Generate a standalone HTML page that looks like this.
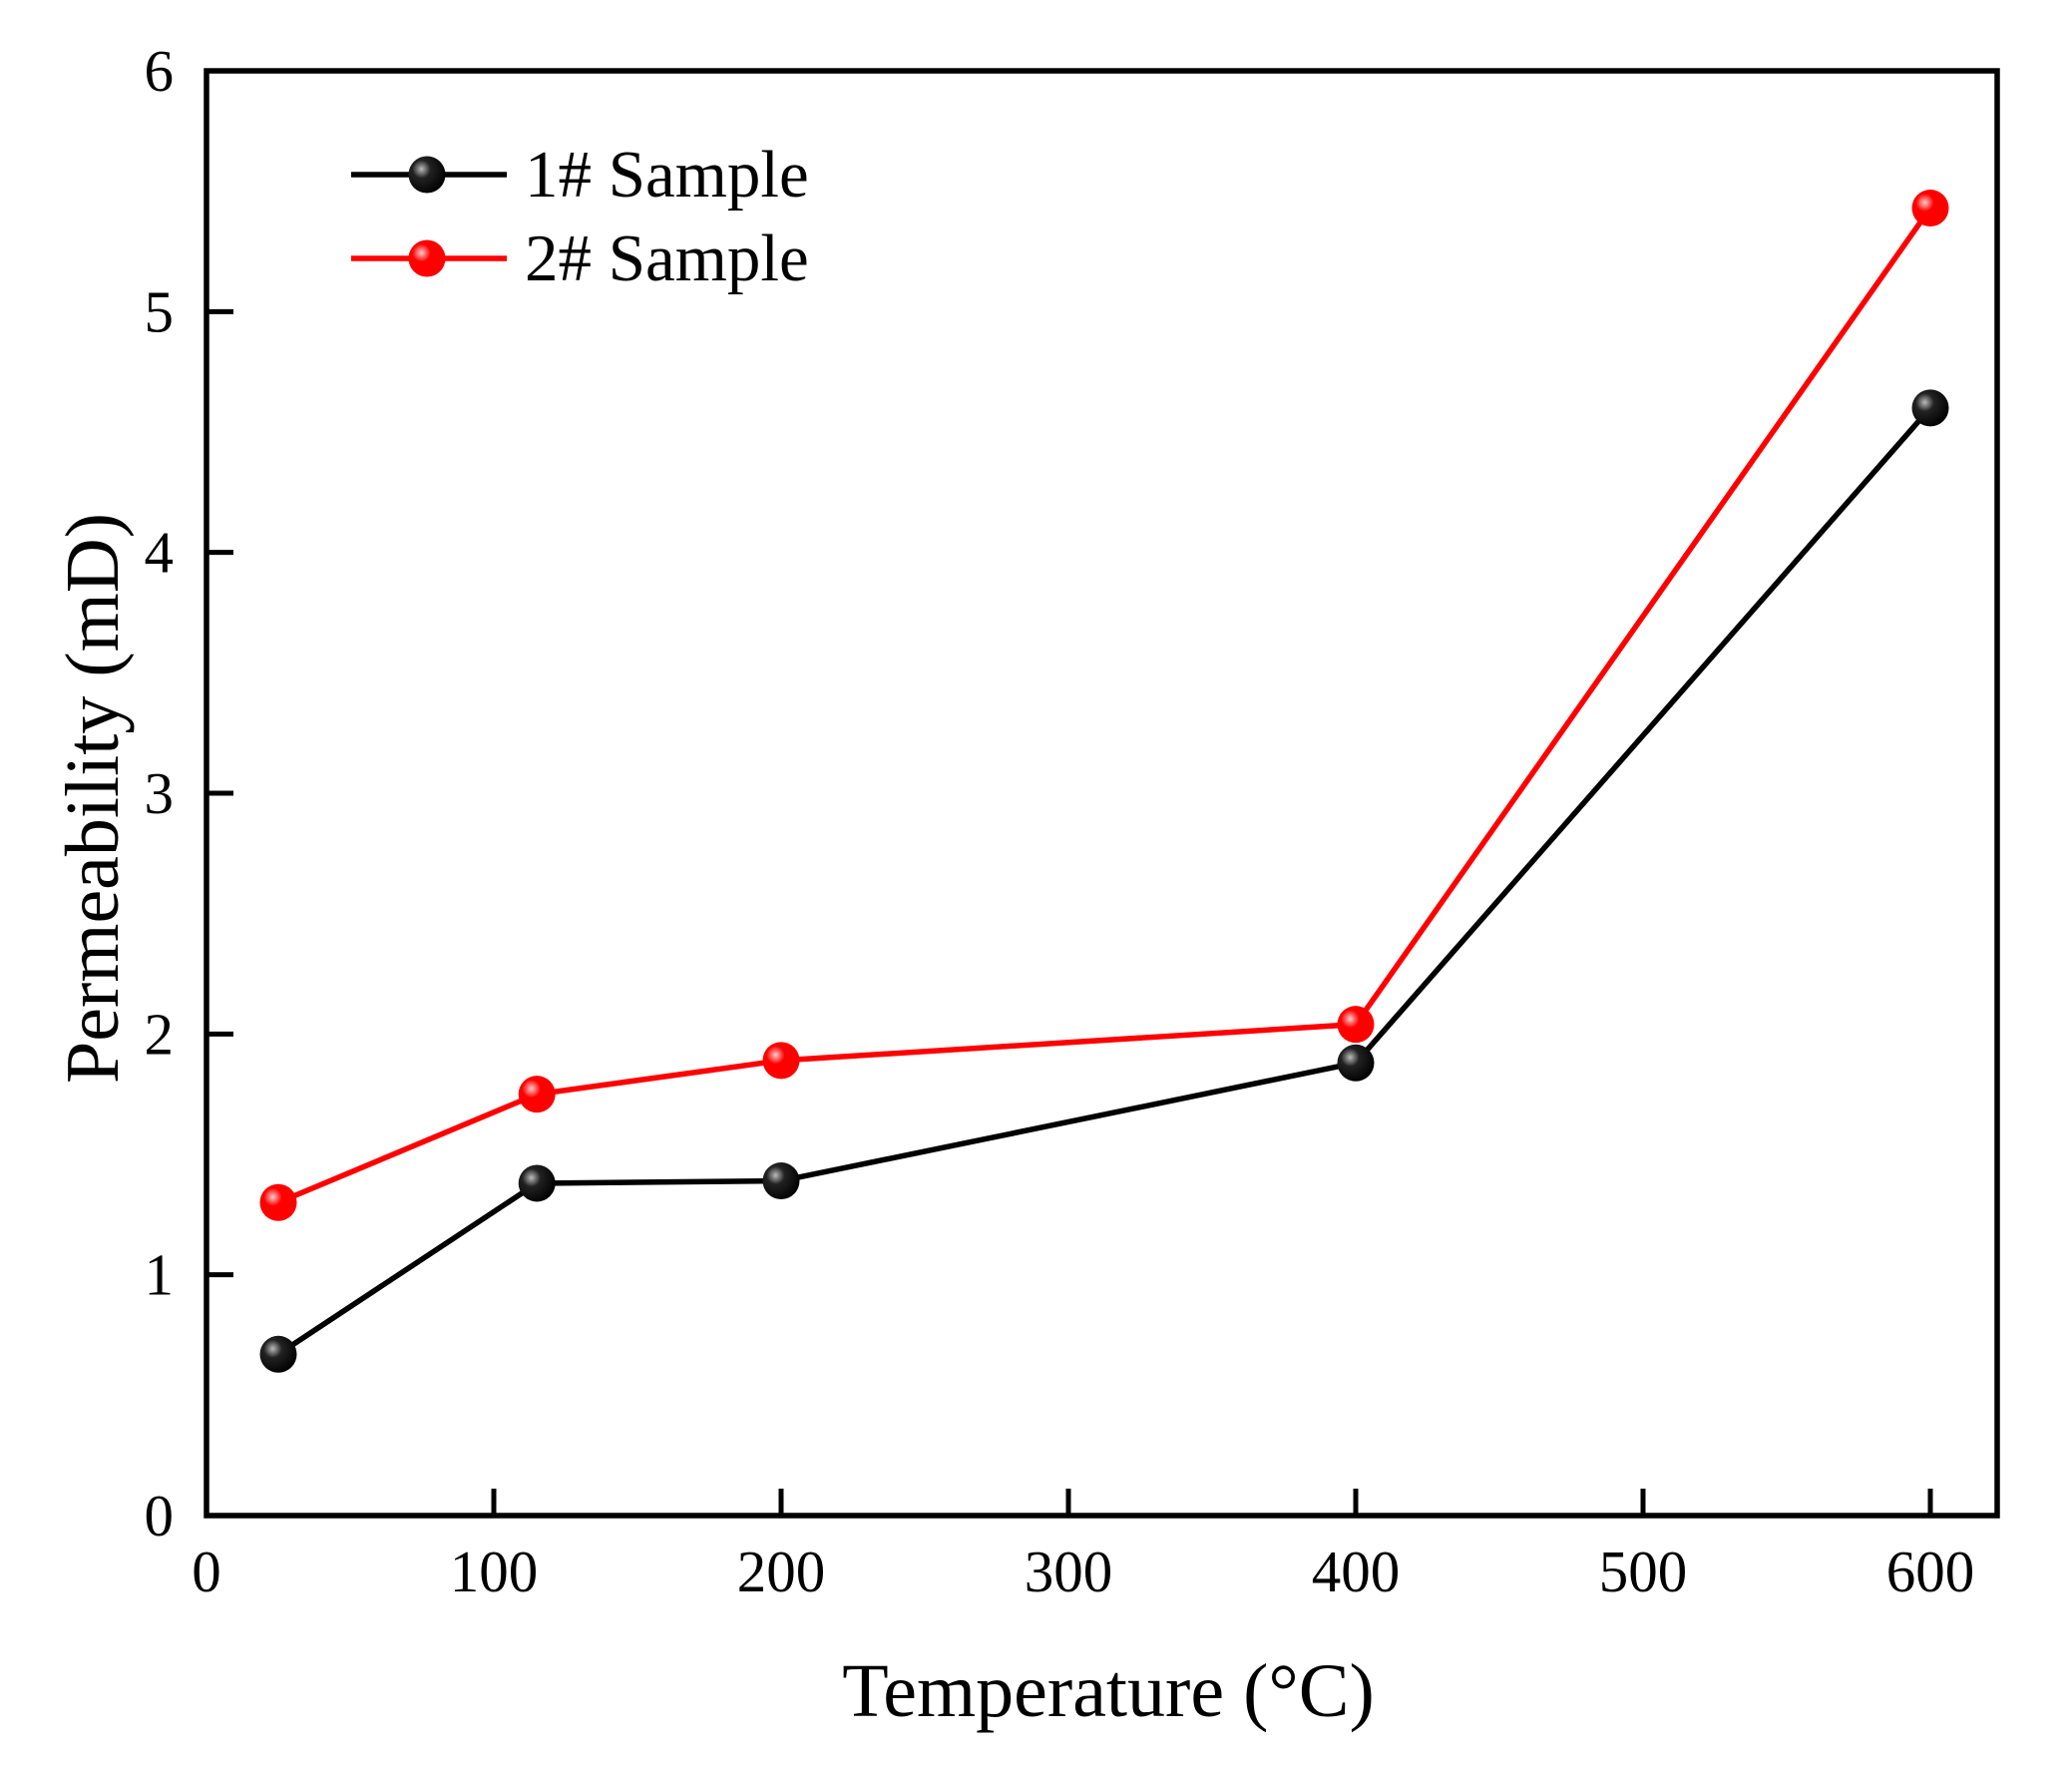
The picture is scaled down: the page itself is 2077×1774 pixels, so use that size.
<!DOCTYPE html>
<html><head><meta charset="utf-8"><style>
html,body{margin:0;padding:0;background:#fff}
svg{display:block}
text{font-family:"Liberation Serif",serif;fill:#000}
</style></head><body>
<svg id="chart" width="2077" height="1774" viewBox="0 0 2077 1774" xmlns="http://www.w3.org/2000/svg">
<defs>
<radialGradient id="gb" cx="0.35" cy="0.35" r="0.7"><stop offset="0" stop-color="#bbb"/><stop offset="0.35" stop-color="#222"/><stop offset="1" stop-color="#000"/></radialGradient>
<radialGradient id="gr" cx="0.35" cy="0.35" r="0.7"><stop offset="0" stop-color="#fcc"/><stop offset="0.35" stop-color="#f00"/><stop offset="1" stop-color="#f00"/></radialGradient>
</defs>
<g id="plot"></g>
</svg>
<script>
const temps1 = [25, 115, 200, 400, 600];
const perm1 = [0.67, 1.38, 1.39, 1.88, 4.60];
const temps2 = [25, 115, 200, 400, 600];
const perm2 = [1.30, 1.75, 1.89, 2.04, 5.43];
const xTicks = [0, 100, 200, 300, 400, 500, 600];
const yTicks = [0, 1, 2, 3, 4, 5, 6];

const L=207,R=2002,T=71,B=1519;
const xs=v=>L+v*(1935-L)/600;
const ys=v=>B-v*(B-T)/6;
const NS='http://www.w3.org/2000/svg';
const g=document.getElementById('plot');
function mk(tag,attrs,parent){const e=document.createElementNS(NS,tag);for(const k in attrs)e.setAttribute(k,attrs[k]);(parent||g).appendChild(e);return e;}

const frame=mk('rect',{x:L,y:T,width:R-L,height:B-T,fill:'none',stroke:'#000','stroke-width':5.5});



xTicks.forEach(v=>{
  if(v>0){const t=mk('line',{x1:xs(v),x2:xs(v),y1:B,y2:B-27,stroke:'#000','stroke-width':5});
  
  }
  const l=mk('text',{x:xs(v),y:1595,'font-size':59,'text-anchor':'middle'});l.textContent=v;
  
  
});
yTicks.forEach(v=>{
  if(v>0&&v<6){const t=mk('line',{x1:L,x2:L+27,y1:ys(v),y2:ys(v),stroke:'#000','stroke-width':5});
  
  }
  const l=mk('text',{x:174,y:ys(v)+20,'font-size':59,'text-anchor':'end'});l.textContent=v;
  
  
});

const xt=mk('text',{x:1111,y:1720,'font-size':76,'text-anchor':'middle'});xt.textContent='Temperature (°C)';


const yt=mk('text',{x:0,y:0,'font-size':76,'text-anchor':'middle',transform:'translate(118,800) rotate(-90)'});yt.textContent='Permeability (mD)';



function series(xv,yv,color,grad,name){
  const pl=mk('polyline',{points:xv.map((x,i)=>xs(x)+','+ys(yv[i])).join(' '),fill:'none',stroke:color,'stroke-width':5.5});
  
  
  xv.forEach((x,i)=>{
    const c=mk('circle',{cx:xs(x),cy:ys(yv[i]),r:18.5,fill:'url(#'+grad+')'});
    
    
  });
}
series(temps1,perm1,'#000','gb','sample-1');
series(temps2,perm2,'#f00','gr','sample-2');

function legend(y,color,grad,label,name){
  const ln=mk('line',{x1:352,x2:508,y1:y,y2:y,stroke:color,'stroke-width':5.5});
  
  
  const c=mk('circle',{cx:428,cy:y,r:18.5,fill:'url(#'+grad+')'});
  
  
  const t=mk('text',{x:526,y:y+22,'font-size':67});t.textContent=label;
  
  
}
legend(175,'#000','gb','1# Sample','sample-1');
legend(259,'#f00','gr','2# Sample','sample-2');
</script>
</body></html>
